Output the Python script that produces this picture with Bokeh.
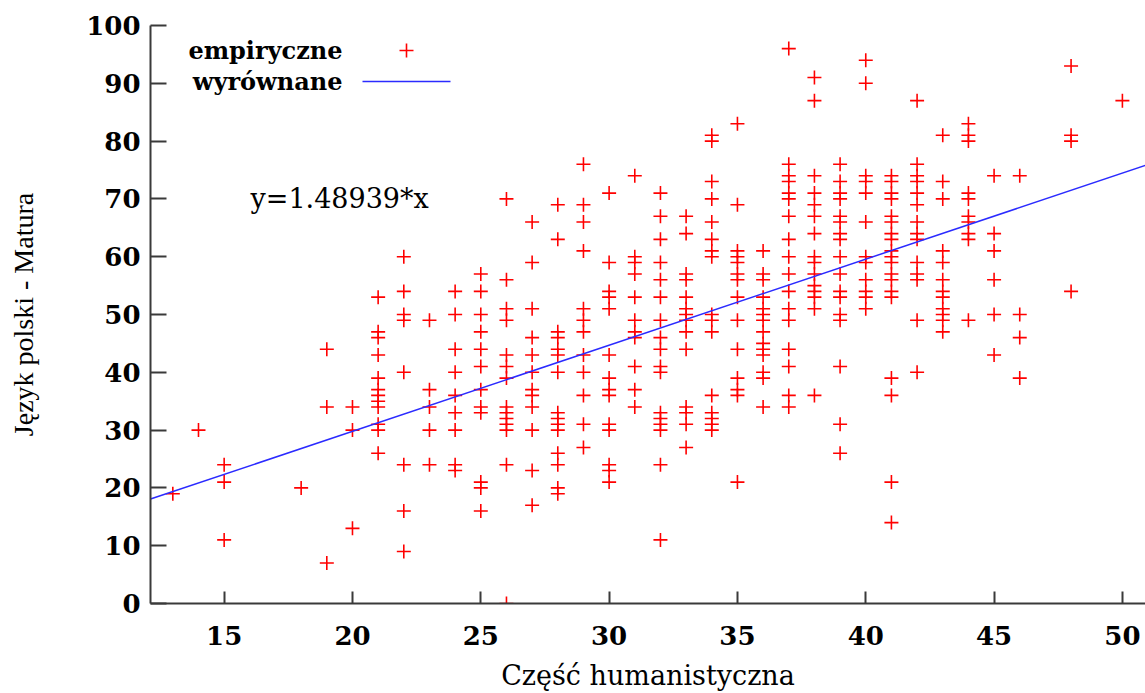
import numpy as np
from bokeh.plotting import figure
from bokeh.models import Range1d, Label, FixedTicker
from bokeh.embed import file_html
from bokeh.resources import INLINE

# ---- data: y values (Język polski - Matura) for each x (Część humanistyczna) ----
y_at_13 = [19]
y_at_14 = [30]
y_at_15 = [24, 21, 11]
y_at_18 = [20]
y_at_19 = [44, 34, 7]
y_at_20 = [34, 30, 13]
y_at_21 = [53, 47, 46, 43, 39, 37, 36, 35, 34, 31, 30, 26]
y_at_22 = [60, 54, 50, 49, 40, 24, 16, 9]
y_at_23 = [49, 37, 34, 30, 24]
y_at_24 = [54, 50, 44, 40, 36, 33, 30, 24, 23]
y_at_25 = [57, 54, 50, 47, 44, 41, 37, 34, 33, 21, 20, 16]
y_at_26 = [70, 56, 51, 49, 43, 41, 39, 34, 33, 32, 31, 30, 24, 0]
y_at_27 = [66, 59, 51, 46, 43, 40, 37, 36, 34, 30, 23, 17]
y_at_28 = [69, 63, 47, 46, 44, 43, 40, 33, 32, 31, 30, 26, 24, 20, 19]
y_at_29 = [76, 69, 66, 61, 51, 49, 47, 43, 40, 36, 31, 27]
y_at_30 = [71, 59, 54, 53, 51, 43, 39, 37, 36, 31, 30, 24, 23, 21]
y_at_31 = [74, 60, 59, 57, 53, 49, 47, 46, 41, 37, 34]
y_at_32 = [71, 67, 63, 59, 56, 53, 49, 46, 44, 41, 40, 33, 32, 31, 30, 24, 11]
y_at_33 = [67, 64, 57, 56, 53, 51, 50, 49, 47, 44, 34, 33, 31, 27]
y_at_34 = [81, 80, 73, 70, 66, 63, 61, 60, 50, 49, 47, 36, 33, 32, 31, 30]
y_at_35 = [83, 69, 61, 60, 59, 57, 56, 53, 49, 44, 39, 37, 36, 21]
y_at_36 = [61, 57, 56, 53, 51, 50, 49, 47, 45, 44, 43, 40, 39, 34]
y_at_37 = [96, 76, 74, 73, 71, 70, 67, 63, 60, 57, 54, 51, 49, 44, 41, 36, 34]
y_at_38 = [91, 87, 74, 71, 69, 67, 64, 60, 59, 57, 55, 54, 53, 51, 36]
y_at_39 = [76, 73, 71, 70, 67, 66, 64, 63, 60, 57, 54, 53, 50, 49, 41, 31, 26]
y_at_40 = [94, 90, 74, 73, 71, 66, 60, 59, 56, 54, 53, 51]
y_at_41 = [74, 73, 71, 70, 67, 66, 64, 63, 61, 60, 59, 57, 56, 54, 53, 39, 36, 21, 14]
y_at_42 = [87, 76, 74, 73, 71, 69, 66, 64, 63, 59, 57, 56, 49, 40]
y_at_43 = [81, 73, 70, 61, 59, 56, 54, 53, 51, 50, 49, 47]
y_at_44 = [83, 81, 80, 71, 70, 67, 66, 64, 63, 49]
y_at_45 = [74, 64, 61, 56, 50, 43]
y_at_46 = [74, 50, 46, 39]
y_at_48 = [93, 81, 80, 54]
y_at_50 = [87]

x_levels = [13, 14, 15, 18, 19, 20, 21, 22, 23, 24, 25, 26, 27, 28, 29, 30,
            31, 32, 33, 34, 35, 36, 37, 38, 39, 40, 41, 42, 43, 44, 45, 46, 48, 50]
y_columns = [y_at_13, y_at_14, y_at_15, y_at_18, y_at_19, y_at_20, y_at_21, y_at_22,
             y_at_23, y_at_24, y_at_25, y_at_26, y_at_27, y_at_28, y_at_29, y_at_30,
             y_at_31, y_at_32, y_at_33, y_at_34, y_at_35, y_at_36, y_at_37, y_at_38,
             y_at_39, y_at_40, y_at_41, y_at_42, y_at_43, y_at_44, y_at_45, y_at_46,
             y_at_48, y_at_50]

slope = 1.48939
x_ticks = [15, 20, 25, 30, 35, 40, 45, 50]
y_ticks = [0, 10, 20, 30, 40, 50, 60, 70, 80, 90, 100]

series_names = ["empiryczne", "wyrównane"]
equation_text = "y=1.48939*x"
x_title = "Część humanistyczna"
y_title = "Język polski - Matura"

xs, ys = [], []
for xv, col in zip(x_levels, y_columns):
    xs += [xv] * len(col)
    ys += col

# ---- layout ----
W, H = 1145, 693
BL, BR, BT, BB = 150, 0, 25, 90
X0, X1 = 12.13, 50.90
Y0, Y1 = 0, 100
FW, FH = W - BL - BR, H - BT - BB


def px_to_x(px):  # canvas px -> data x
    return X0 + (px - BL) / FW * (X1 - X0)


def py_to_y(py):  # canvas px -> data y
    return Y1 - (py - BT) / FH * (Y1 - Y0)


p = figure(width=W, height=H, output_backend="svg", toolbar_location=None,
           x_range=Range1d(X0, X1), y_range=Range1d(Y0, Y1),
           min_border_left=BL, min_border_right=BR, min_border_top=BT,
           min_border_bottom=BB)
p.outline_line_color = None
p.grid.visible = False
p.background_fill_color = "white"

AX_COL = "#3a3a3a"
for ax in (p.xaxis[0], p.yaxis[0]):
    ax.axis_line_color = AX_COL
    ax.axis_line_width = 2
    ax.major_tick_line_color = AX_COL
    ax.major_tick_line_width = 2
    ax.major_tick_out = 0
    ax.minor_tick_line_color = None
    ax.major_label_text_font = "DejaVu Serif"
    ax.major_label_text_font_style = "bold"
    ax.major_label_text_font_size = "26px"
    ax.major_label_text_color = "black"

p.xaxis.ticker = FixedTicker(ticks=x_ticks)
p.yaxis.ticker = FixedTicker(ticks=y_ticks)
p.xaxis.major_tick_in = 12
p.yaxis.major_tick_in = 16
p.xaxis.major_label_standoff = 22
p.yaxis.major_label_standoff = 10

p.yaxis.axis_label = y_title
p.yaxis.axis_label_text_font = "Liberation Serif"
p.yaxis.axis_label_text_font_style = "normal"
p.yaxis.axis_label_text_font_size = "28px"
p.yaxis.axis_label_text_color = "black"
p.yaxis.axis_label_standoff = 44

p.xaxis.axis_label = x_title
p.xaxis.axis_label_text_font = "DejaVu Serif"
p.xaxis.axis_label_text_font_style = "normal"
p.xaxis.axis_label_text_font_size = "27px"
p.xaxis.axis_label_text_color = "black"
p.xaxis.axis_label_text_line_height = 0.5
p.xaxis.axis_label_standoff = 12

# data
p.scatter(xs, ys, marker="cross", size=14, line_color="#ff0000", line_width=1.6)
lx = np.array([X0, X1])
p.line(lx, slope * lx, line_color="#2b2bff", line_width=1.5)

# legend (drawn manually: label left, sample right)
leg_text_right = 342
leg_rows = [50, 81]
for name, row in zip(series_names, leg_rows):
    p.add_layout(Label(x=px_to_x(leg_text_right), y=py_to_y(row), text=name,
                       text_align="right", text_baseline="middle", text_font="DejaVu Serif",
                       text_font_style="bold", text_font_size="24px", text_color="black"))
p.scatter([px_to_x(406)], [py_to_y(leg_rows[0])], marker="cross", size=14,
          line_color="#ff0000", line_width=1.6)
p.line([px_to_x(362), px_to_x(450)], [py_to_y(leg_rows[1])] * 2,
       line_color="#2b2bff", line_width=1.5)

# equation text
p.add_layout(Label(x=px_to_x(250), y=py_to_y(198), text=equation_text,
                   text_align="left", text_baseline="middle", text_font="DejaVu Serif",
                   text_font_style="normal", text_font_size="27px", text_color="black"))

open("out.html", "w").write(file_html(p, INLINE))
